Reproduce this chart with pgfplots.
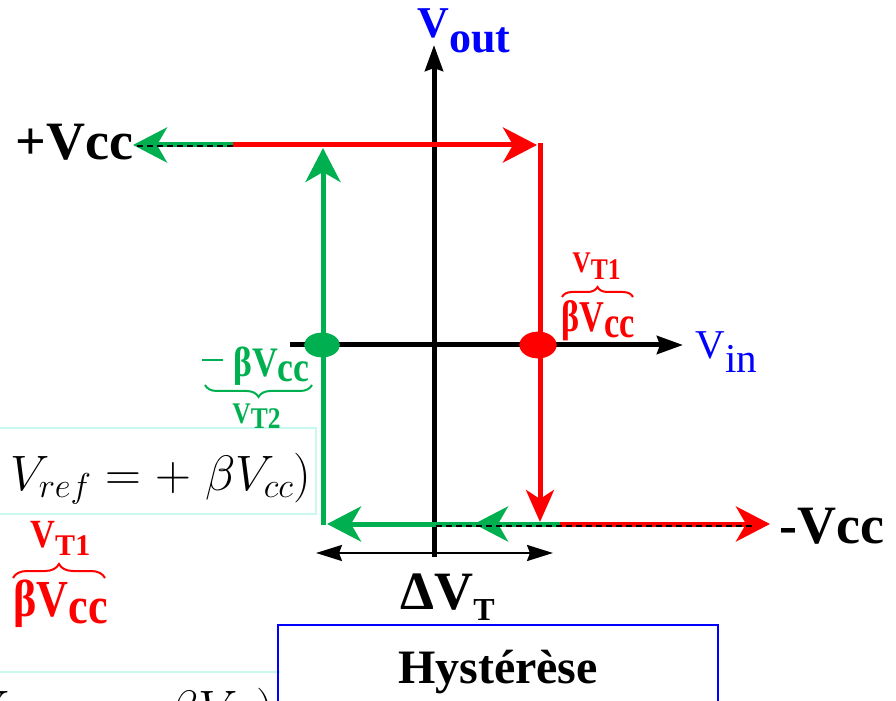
\documentclass[border=0pt]{standalone}
\usepackage{pgfplots}
\pgfplotsset{compat=1.18}
\usepackage{fontspec}
\setmainfont{Liberation Serif}
\usetikzlibrary{arrows.meta,decorations.pathreplacing}
\definecolor{ggreen}{RGB}{0,176,80}
\definecolor{rred}{RGB}{255,0,0}
\definecolor{bblue}{RGB}{0,0,255}
\definecolor{lcyan}{RGB}{200,248,238}
\newcommand{\fs}[1]{\fontsize{#1}{#1}\selectfont}
\tikzset{
  bigG/.style={-{Stealth[length=17pt,width=17.5pt,inset=5pt]}},
  redD/.style={-{Stealth[length=16pt,width=14pt,inset=4.5pt]}},
  axh/.style={-{Stealth[length=13pt,width=9pt,inset=1.5pt]}},
}
\begin{document}
\begin{tikzpicture}
\begin{axis}[at={(0,0)}, anchor=south west, scale only axis,
  width=448pt, height=350.5pt, xmin=0, xmax=896, ymin=0, ymax=701,
  y dir=reverse, axis lines=none, ticks=none, clip=false]
% boxes
\draw[lcyan, line width=1pt] (axis cs:-5,428) rectangle (axis cs:316,514);
\draw[lcyan, line width=1pt] (axis cs:-5,672) -- (axis cs:280,672);
\draw[bblue, line width=1pt] (axis cs:278,625) rectangle (axis cs:718,730);
% black axes
\addplot[black, line width=2.5pt, axh] coordinates {(434,557) (434,45)};
\addplot[black, line width=2.5pt, axh] coordinates {(290,345) (683,345)};
% hysteresis loop
\addplot[rred, line width=2.5pt, bigG] coordinates {(233,145) (537,145)};
\addplot[ggreen, line width=2.5pt, bigG] coordinates {(233,145) (133,145)};
\addplot[ggreen, line width=2.5pt, bigG] coordinates {(323,525) (323,148)};
\addplot[ggreen, line width=2.5pt, bigG] coordinates {(561,524) (327,524)};
\addplot[ggreen, line width=2.5pt, bigG] coordinates {(512,524) (474,524)};
\addplot[rred, line width=2.5pt, redD] coordinates {(540,143) (540,522)};
\addplot[rred, line width=2.5pt, bigG] coordinates {(560,524) (770,524)};
% dashed
\addplot[black, line width=0.8pt, dash pattern=on 3pt off 2pt] coordinates {(137,146) (233,146)};
\addplot[black, line width=0.8pt, dash pattern=on 3pt off 2pt] coordinates {(436,526) (752,526)};
% Delta VT
\addplot[black, line width=1.2pt, {Stealth[length=13pt,width=8pt,inset=1.5pt]}-{Stealth[length=13pt,width=8pt,inset=1.5pt]}] coordinates {(316,553) (553,553)};
% thresholds
\addplot[only marks, mark=*, ggreen, mark size=6pt, mark options={xscale=1.45}] coordinates {(322,345)};
\addplot[only marks, mark=*, rred, mark size=6.5pt, mark options={xscale=1.4}] coordinates {(538,345)};
% texts
\node[anchor=base east, inner sep=0, font=\bfseries\fs{27}] at (axis cs:134,160) {+Vcc};
\node[anchor=base west, inner sep=0, font=\bfseries\fs{27}] at (axis cs:779,543) {-Vcc};
\node[anchor=base west, inner sep=0, text=bblue, font=\bfseries\fs{22}] at (axis cs:417,38) {V\raisebox{-7.5pt}{out}};
\node[anchor=base west, inner sep=0, text=bblue, font=\fs{20.5}] at (axis cs:695,358) {V\raisebox{-7pt}{in}};
\node[anchor=base west, inner sep=0, font=\bfseries\fs{27}] at (axis cs:400,610) {ΔV\raisebox{-5pt}{\fs{16}T}};
\node[anchor=base, inner sep=0, font=\bfseries\fs{24}] at (axis cs:498,683) {Hystérèse};
\node[anchor=base west, inner sep=0, font=\fs{25}] at (axis cs:10,490) {$V_{ref} = {+}\;\beta V_{cc})$};
\node[anchor=base east, inner sep=0, font=\fs{25}] at (axis cs:275,725) {$(V_{ref} = {-}\;\beta V_{cc})$};
% red upper right
\node[anchor=base west, inner sep=0, text=rred, font=\bfseries\fs{22}] at (axis cs:561,332) {\scalebox{0.78}[1]{βV\raisebox{-2.5pt}{cc}}};
\draw[rred, line width=1pt, decorate, decoration={brace, amplitude=5pt}] (axis cs:562,297) -- (axis cs:633,297);
\node[anchor=base west, inner sep=0, text=rred, font=\bfseries\fs{15}] at (axis cs:572,273) {\scalebox{0.85}[1]{V\raisebox{-3.5pt}{T1}}};
% green
\node[anchor=base west, inner sep=0, text=ggreen, font=\bfseries\fs{21}] at (axis cs:202,377) {\rule[8pt]{10.5pt}{1.1pt}\hspace{5pt}\scalebox{0.85}[1]{βV\raisebox{-2.5pt}{cc}}};
\draw[ggreen, line width=1pt, decorate, decoration={brace, amplitude=6pt}] (axis cs:312,385) -- (axis cs:205,385);
\node[anchor=base west, inner sep=0, text=ggreen, font=\bfseries\fs{15}] at (axis cs:232,423) {\scalebox{0.85}[1]{V\raisebox{-2.5pt}{T2}}};
% red lower left
\node[anchor=base west, inner sep=0, text=rred, font=\bfseries\fs{20}] at (axis cs:30,547) {\scalebox{0.86}[1]{V}\raisebox{-4pt}{\fs{15}T1}};
\draw[rred, line width=1pt, decorate, decoration={brace, amplitude=7pt}] (axis cs:13,578) -- (axis cs:105,578);
\node[anchor=base west, inner sep=0, text=rred, font=\bfseries\fs{26}] at (axis cs:13,617) {\scalebox{0.85}[1]{βV\raisebox{-3pt}{cc}}};
\end{axis}
\pgfresetboundingbox
\path (0,0) rectangle (448pt,350.5pt);
\end{tikzpicture}
\end{document}
